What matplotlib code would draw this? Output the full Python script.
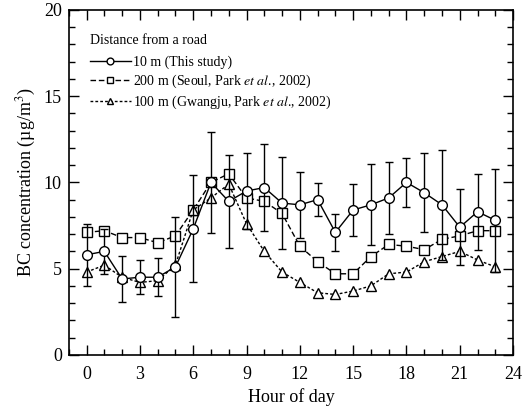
import numpy as np
import matplotlib
matplotlib.use("Agg")
from matplotlib import pyplot as plt
from matplotlib.ticker import MultipleLocator

hours = np.arange(24)

# 10 m (This study)
bc_10m = [5.8, 6.0, 4.4, 4.5, 4.5, 5.1, 7.3, 10.0, 8.9, 9.5, 9.7, 8.8,
          8.7, 9.0, 7.1, 8.4, 8.7, 9.1, 10.0, 9.4, 8.7, 7.4, 8.3, 7.8]
err_10m = [1.8, 1.3, 1.35, 1.0, 1.1, 2.9, 3.1, 2.95, 2.7, 2.2, 2.5, 2.65,
           1.9, 0.95, 1.05, 1.5, 2.35, 2.1, 1.4, 2.3, 3.2, 2.2, 2.2, 3.0]
# 200 m (Seoul)
bc_200m = [7.1, 7.2, 6.8, 6.8, 6.5, 6.9, 8.4, 10.0, 10.5, 9.1, 8.9, 8.2,
           6.3, 5.4, 4.7, 4.7, 5.7, 6.4, 6.3, 6.1, 6.7, 6.9, 7.2, 7.2]
# 100 m (Gwangju)
bc_100m = [4.8, 5.2, 4.5, 4.2, 4.3, 5.2, 8.4, 9.1, 9.9, 7.6, 6.0, 4.8,
           4.2, 3.6, 3.5, 3.7, 4.0, 4.7, 4.8, 5.4, 5.7, 6.0, 5.5, 5.1]

plt.rcParams['font.family'] = ['Liberation Serif', 'DejaVu Serif']
plt.rcParams['mathtext.fontset'] = 'stix'

fig = plt.figure(figsize=(5.29, 4.15), dpi=100)
ax = fig.add_axes([0.130, 0.145, 0.840, 0.831])

h1 = ax.errorbar(hours, bc_10m, yerr=err_10m, fmt='-o', color='black', lw=1.0,
                 ms=7, mfc='white', mec='black', mew=1.0, capsize=3,
                 elinewidth=1.0, label='10 m (This study)', zorder=3)
h2, = ax.plot(hours, bc_200m, ls=(0, (4, 2)), marker='s', color='black', lw=1.0,
              ms=6.5, mfc='white', mec='black', mew=1.0,
              label='200 m (Seoul, Park $\\it{et\\ al}$., 2002)', zorder=2)
h3, = ax.plot(hours, bc_100m, ls=(0, (2, 1.5)), marker='^', color='black', lw=1.0,
              ms=7, mfc='white', mec='black', mew=1.0,
              label='100 m (Gwangju, Park $\\it{et\\ al}$., 2002)', zorder=2)

ax.set_xlim(-1, 24)
ax.set_ylim(0, 20)
ax.xaxis.set_major_locator(MultipleLocator(3))
ax.xaxis.set_minor_locator(MultipleLocator(1))
ax.yaxis.set_major_locator(MultipleLocator(5))
ax.yaxis.set_minor_locator(MultipleLocator(1))
ax.tick_params(which='both', direction='in', top=True, right=True, labelsize=13)
ax.tick_params(which='major', length=7, width=1.0)
ax.tick_params(which='minor', length=4, width=1.0)
ax.tick_params(axis='x', which='major', pad=8)
ax.tick_params(axis='y', which='major', pad=5)
for s in ax.spines.values():
    s.set_linewidth(1.2)

ax.set_xlabel('Hour of day', fontsize=13)
ax.set_ylabel('BC concentration (\u00b5g/m$^3$)', fontsize=13)

leg = ax.legend([h1[0], h2, h3], [h1.get_label(), h2.get_label(), h3.get_label()],
                loc='upper left', bbox_to_anchor=(0.047, 0.93),
                title='Distance from a road', frameon=False,
                fontsize=10, title_fontsize=10, handlelength=3.0,
                handletextpad=0.15, labelspacing=0.25, borderpad=0,
                borderaxespad=0, markerscale=0.7)
leg._legend_box.align = 'left'
leg._legend_box.sep = 6

fig.savefig('out.png', dpi=100)
